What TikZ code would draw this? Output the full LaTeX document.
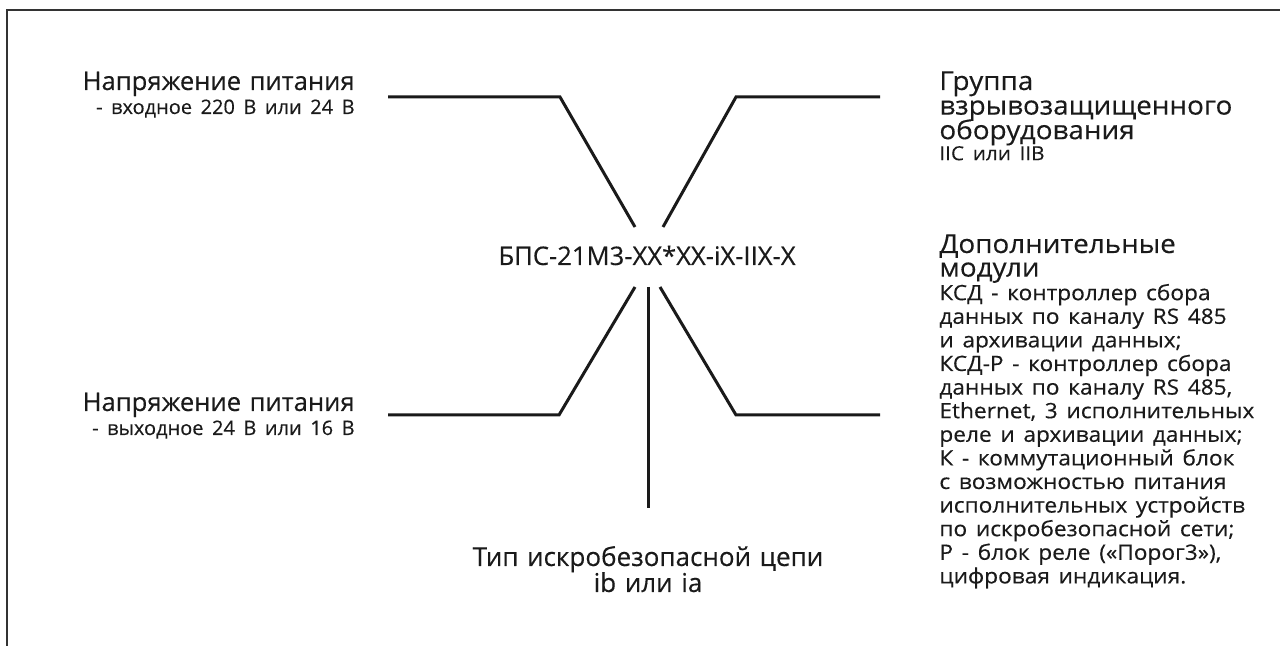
\documentclass[tikz,border=0pt]{standalone}
\usepackage{fontspec}
\setmainfont{Open Sans}[FakeBold=0.3,WordSpace=0.85]
\newfontfamily\widefont{Open Sans}[FakeBold=0.3,WordSpace=0.85,FakeStretch=1.07]
\definecolor{ink}{HTML}{1A1A1A}
\definecolor{framec}{HTML}{333333}
\newcommand\tightls{\lineskiplimit=-20pt\relax}
\newcommand\bodyf{\fontsize{10.6}{11.8}\selectfont}
\newcommand\subf{\fontsize{10}{12}\selectfont}
\newcommand\iicf{\fontsize{9.7}{12}\selectfont}
\begin{document}
\begin{tikzpicture}[x=0.5pt,y=-0.5pt,
  conn/.style={draw=ink, line width=1.5pt, line join=miter},
  framestyle/.style={draw=framec, line width=1pt},
  lbl/.style={inner sep=0pt, text=ink, font={\fontsize{12.8}{12}\selectfont\tightls}},
  rlbl/.style={lbl, anchor=base west, text width=170pt, align=left},
  llbl/.style={lbl, anchor=base east, text width=170pt, align=right},
]
\useasboundingbox (0,0) rectangle (1280,646);
\draw[framestyle] (7,646) -- (7,10) -- (1280,10);

% central code
\node[lbl, anchor=base] (code) at (647,265) {БПС-21М3-XX*XX-iX-IIX-X};

% left labels
\node[llbl] (vin) at (355,90)
  {Напряжение питания\\{\subf - входное 220 В или 24 В}};
\node[llbl] (vout) at (355,411)
  {Напряжение питания\\{\subf - выходное 24 В или 16 В}};

% right labels
\node[rlbl, font={\widefont\fontsize{13}{12.3}\selectfont\tightls}] (grp) at (939,90)
  {Группа\\взрывозащищенного\\оборудования\\[-1.8pt]{\iicf IIC или IIB}};
\node[rlbl, font={\widefont\fontsize{13}{11.8}\selectfont\tightls}] (mods) at (939,253)
  {Дополнительные\\модули\\
   {\bodyf КСД - контроллер сбора}\\
   {\bodyf данных по каналу RS 485}\\
   {\bodyf и архивации данных;}\\
   {\bodyf КСД-Р - контроллер сбора}\\
   {\bodyf данных по каналу RS 485,}\\
   {\bodyf Ethernet, 3 исполнительных}\\
   {\bodyf реле и архивации данных;}\\
   {\bodyf К - коммутационный блок}\\
   {\bodyf с возможностью питания}\\
   {\bodyf исполнительных устройств}\\
   {\bodyf по искробезопасной сети;}\\
   {\bodyf Р - блок реле («Порог3»),}\\
   {\bodyf цифровая индикация.}};

% bottom label
\node[lbl, anchor=base, text width=250pt, align=center,
      font={\fontsize{13}{13}\selectfont}] (itype) at (648,566)
  {Тип искробезопасной цепи\\ib или ia};

% connector end points
\coordinate (tlA) at (635,227);
\coordinate (tlB) at (560,97);
\coordinate (tlC) at (388,97);
\coordinate (trA) at (663,227);
\coordinate (trB) at (736,97);
\coordinate (trC) at (880,97);
\coordinate (blA) at (635,287);
\coordinate (blB) at (559,415);
\coordinate (blC) at (388,415);
\coordinate (brA) at (660,287);
\coordinate (brB) at (736,415);
\coordinate (brC) at (880,415);
\coordinate (vA) at (648,287);
\coordinate (vB) at (648,508);

\draw[conn] (tlA) -- (tlB) -- (tlC);
\draw[conn] (trA) -- (trB) -- (trC);
\draw[conn] (blA) -- (blB) -- (blC);
\draw[conn] (brA) -- (brB) -- (brC);
\draw[conn] (vA) -- (vB);
\end{tikzpicture}
\end{document}
